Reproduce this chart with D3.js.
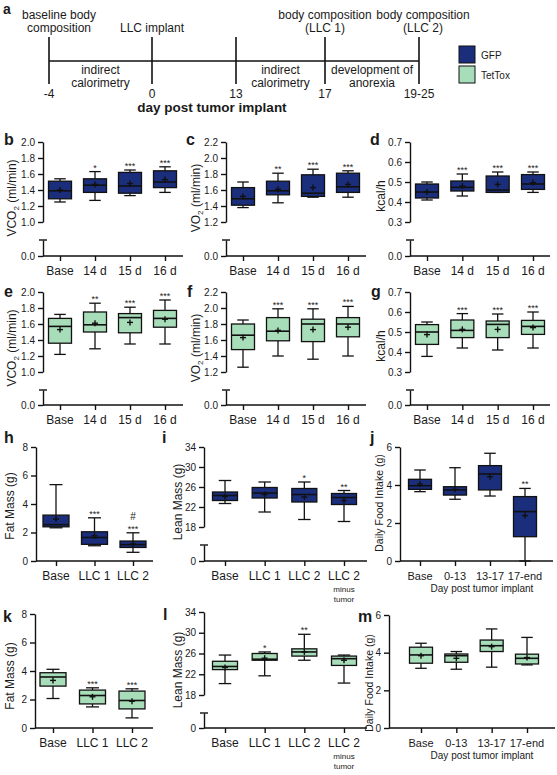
<!DOCTYPE html>
<html><head><meta charset="utf-8">
<script src="https://cdn.jsdelivr.net/npm/d3@7"></script>
<style>
body{margin:0;background:#fff}
svg text{font-family:"Liberation Sans",Arial,sans-serif;fill:#1a1a1a}
</style>
</head><body>
<script>
// ---------------- DATA ----------------
// box stats: [min, q1, median, q3, max, mean]
const dayCats = ["Base","14 d","15 d","16 d"];
const compCats = ["Base","LLC 1","LLC 2"];
const leanCats = ["Base","LLC 1","LLC 2","LLC 2 minus tumor"];
const foodCats = ["Base","0-13","13-17","17-end"];

const vco2GFP = [[1.25,1.29,1.39,1.51,1.54,1.40],[1.27,1.37,1.46,1.54,1.63,1.47],[1.33,1.36,1.45,1.62,1.65,1.48],[1.37,1.43,1.50,1.64,1.69,1.53]];
const vo2GFP  = [[1.38,1.41,1.49,1.63,1.70,1.52],[1.44,1.54,1.59,1.71,1.81,1.61],[1.51,1.52,1.56,1.79,1.86,1.63],[1.51,1.57,1.64,1.81,1.84,1.67]];
const kcalGFP = [[0.41,0.42,0.45,0.49,0.50,0.45],[0.43,0.455,0.473,0.505,0.54,0.48],[0.448,0.448,0.46,0.53,0.55,0.488],[0.448,0.463,0.49,0.537,0.55,0.497]];
const vco2Tet = [[1.22,1.36,1.57,1.67,1.72,1.53],[1.29,1.50,1.59,1.75,1.86,1.61],[1.35,1.49,1.68,1.73,1.81,1.62],[1.35,1.56,1.67,1.77,1.90,1.66]];
const vo2Tet  = [[1.26,1.48,1.66,1.80,1.85,1.63],[1.40,1.59,1.71,1.88,1.99,1.72],[1.36,1.58,1.80,1.86,1.99,1.73],[1.40,1.64,1.80,1.88,2.02,1.76]];
const kcalTet = [[0.378,0.438,0.50,0.537,0.55,0.487],[0.42,0.472,0.508,0.56,0.592,0.513],[0.41,0.472,0.538,0.555,0.59,0.513],[0.42,0.488,0.528,0.558,0.60,0.522]];
const fatGFP  = [[2.33,2.40,2.55,3.22,5.36,2.94],[1.07,1.17,1.65,2.05,3.03,1.77],[0.61,0.95,1.15,1.40,1.98,1.20]];
const leanGFP = [[22.7,23.3,24.3,25.0,27.3,24.1],[21.0,23.8,24.8,25.9,27.0,24.5],[19.5,23.0,24.5,25.7,27.0,24.0],[19.1,22.5,23.9,24.7,25.3,23.3]];
const foodGFP = [[3.65,3.77,3.96,4.30,4.79,4.05],[3.25,3.47,3.74,3.91,4.91,3.77],[3.42,3.74,4.58,5.02,5.67,4.44],[0,1.28,2.60,3.39,3.82,2.39]];
const fatTet  = [[2.07,2.94,3.58,3.88,4.12,3.34],[1.48,1.69,2.28,2.66,2.82,2.19],[0.71,1.34,1.93,2.59,2.75,1.88]];
const leanTet = [[20.2,22.9,23.5,24.5,25.7,23.3],[21.7,24.7,24.9,26.0,26.3,25.1],[24.7,25.5,26.3,26.9,29.7,26.3],[20.3,23.7,25.0,25.5,25.7,24.7]];
const foodTet = [[3.17,3.44,3.88,4.29,4.50,3.84],[3.12,3.49,3.84,3.93,4.06,3.70],[3.23,4.06,4.37,4.67,5.26,4.32],[3.35,3.40,3.70,3.92,4.81,3.74]];

const starsVco2GFP = ["","*","***","***"];
const starsVo2GFP  = ["","**","***","***"];
const starsKcalGFP = ["","***","***","***"];
const starsVco2Tet = ["","**","***","***"];
const starsVo2Tet  = ["","***","***","***"];
const starsKcalTet = ["","***","***","***"];
const starsFatGFP  = ["","***","***"];
const hashFatGFP   = ["","","#"];
const starsLeanGFP = ["","","*","**"];
const starsFoodGFP = ["","","","**"];
const starsFatTet  = ["","***","***"];
const starsLeanTet = ["","*","**",""];
const starsFoodTet = ["","","",""];

const vco2Ticks = [1.0,1.2,1.4,1.6,1.8,2.0];
const vo2Ticks  = [1.2,1.4,1.6,1.8,2.0,2.2];
const kcalTicks = [0.3,0.4,0.5,0.6,0.7];
const fatTicks  = [0,2,4,6,8];
const leanTicks = [18,22,26,30,34];
const foodTicks = [0,2,4,6];

const timelineDays   = [-4,0,13,17,22];
const timelineLabels = ["-4","0","13","17","19-25"];
const timelineTop    = [["baseline body","composition"],["LLC implant"],[],["body composition","(LLC 1)"],["body composition","(LLC 2)"]];
const timelinePhases = [{from:-4,to:0,lines:["indirect","calorimetry"]},{from:13,to:17,lines:["indirect","calorimetry"]},{from:17,to:22,lines:["development of","anorexia"]}];
const groups = ["GFP","TetTox"];
const groupColors = ["#1b2e7c","#a8ddb9"];

// ---------------- DRAW ----------------
const svg = d3.select("body").append("svg").attr("width",557).attr("height",775);

// Panel a: timeline
(function(){
  const g = svg.append("g");
  const t = d3.scaleLinear().domain(timelineDays).range([49,152,236,325,419]);
  g.append("text").attr("x",3).attr("y",14).attr("font-size",14).attr("font-weight","bold").text("a");
  g.append("line").attr("x1",t(-4)).attr("x2",t(22)).attr("y1",61).attr("y2",61).attr("stroke","#111").attr("stroke-width",1.6);
  timelineDays.forEach((d,i)=>{
    g.append("line").attr("x1",t(d)).attr("x2",t(d)).attr("y1",37).attr("y2",84).attr("stroke","#111").attr("stroke-width",1.6);
    g.append("text").attr("x",t(d)).attr("y",98).attr("text-anchor","middle").attr("font-size",12).text(timelineLabels[i]);
    const lines = timelineTop[i];
    const dx = i===0?10:(i===4?4:0);
    lines.forEach((L,j)=>{
      g.append("text").attr("x",t(d)+dx).attr("y",32-(lines.length-1-j)*13).attr("text-anchor","middle").attr("font-size",12).text(L);
    });
  });
  timelinePhases.forEach(p=>{
    const cx = (t(p.from)+t(p.to))/2;
    p.lines.forEach((L,j)=>g.append("text").attr("x",cx).attr("y",74+j*13).attr("text-anchor","middle").attr("font-size",12).text(L));
  });
  g.append("text").attr("x",212).attr("y",112).attr("text-anchor","middle").attr("font-size",13.5).attr("font-weight","bold").text("day post tumor implant");
  groups.forEach((gr,i)=>{
    g.append("rect").attr("x",459).attr("y",46+i*20).attr("width",16).attr("height",17).attr("fill",groupColors[i]).attr("stroke","#111").attr("stroke-width",1);
    g.append("text").attr("x",481).attr("y",59+i*20).attr("font-size",10).text(gr);
  });
})();

function drawPanel(p){
  const g = svg.append("g");
  const y = d3.scaleLinear().domain(p.domain).range([p.yLo,p.yHi]);
  const y0 = p.brkTop!=null ? p.y0 : y(0);
  const fmt = p.fmt;
  const styleAxis = a => {
    a.selectAll("path,line").attr("stroke","#111").attr("stroke-width",1.4);
    a.selectAll("text").attr("font-size",10).attr("fill","#222");
  };
  const ax = g.append("g").attr("transform",`translate(${p.axisX},0)`)
    .call(d3.axisLeft(y).tickValues(p.ticks).tickFormat(fmt).tickSize(5).tickSizeOuter(0).tickPadding(3));
  styleAxis(ax);
  if(p.brkTop!=null){
    const y2 = d3.scaleLinear().domain([0,1]).range([p.y0,p.brkTop]);
    const ax2 = g.append("g").attr("transform",`translate(${p.axisX},0)`)
      .call(d3.axisLeft(y2).tickValues([0]).tickFormat(fmt).tickSize(5).tickSizeOuter(0).tickPadding(3));
    styleAxis(ax2);
    g.append("line").attr("x1",p.axisX-4).attr("x2",p.axisX+4).attr("y1",p.brkTop).attr("y2",p.brkTop).attr("stroke","#111").attr("stroke-width",1.4);
  }
  // x axis
  const x = d3.scalePoint().domain(p.cats).range(p.catRange);
  g.append("line").attr("x1",p.axisX).attr("x2",p.xEnd).attr("y1",y0).attr("y2",y0).attr("stroke","#111").attr("stroke-width",1.4);
  const xa = g.append("g").attr("transform",`translate(0,${y0})`)
    .call(d3.axisBottom(x).tickSize(5).tickSizeOuter(0).tickFormat(""));
  xa.select(".domain").remove();
  xa.selectAll("line").attr("stroke","#111").attr("stroke-width",1.4);
  p.cats.forEach(c=>{
    const parts = c.split(" minus ");
    g.append("text").attr("x",x(c)).attr("y",y0+19).attr("text-anchor","middle").attr("font-size",p.catFont).text(parts[0]);
    if(parts.length>1){
      g.append("text").attr("x",x(c)).attr("y",y0+31).attr("text-anchor","middle").attr("font-size",8).text("minus");
      g.append("text").attr("x",x(c)).attr("y",y0+41).attr("text-anchor","middle").attr("font-size",8).text(parts[1]);
    }
  });
  if(p.xTitle){
    g.append("text").attr("x",p.xTitleX).attr("y",y0+31).attr("text-anchor","middle").attr("font-size",10).text(p.xTitle);
  }
  // boxes
  const bw = p.bw, cw = p.bw*0.5;
  p.data.forEach((s,i)=>{
    const cx = x(p.cats[i]);
    const [mn,q1,md,q3,mx,mean] = s;
    const line=(x1,y1,x2,y2,w)=>g.append("line").attr("x1",x1).attr("y1",y1).attr("x2",x2).attr("y2",y2).attr("stroke","#111").attr("stroke-width",w||1.3);
    line(cx,y(mx),cx,y(q3)); line(cx,y(q1),cx,y(mn));
    line(cx-cw/2,y(mx),cx+cw/2,y(mx)); line(cx-cw/2,y(mn),cx+cw/2,y(mn));
    g.append("rect").attr("x",cx-bw/2).attr("y",y(q3)).attr("width",bw).attr("height",y(q1)-y(q3))
      .attr("fill",p.fill).attr("stroke","#111").attr("stroke-width",1.3);
    line(cx-bw/2,y(md),cx+bw/2,y(md),1.6);
    line(cx-3,y(mean),cx+3,y(mean),1.4); line(cx,y(mean)-3,cx,y(mean)+3,1.4);
    if(p.stars && p.stars[i]) g.append("text").attr("x",cx).attr("y",y(mx)-1).attr("text-anchor","middle").attr("font-size",9).text(p.stars[i]);
    if(p.hash && p.hash[i]) g.append("text").attr("x",cx).attr("y",y(mx)-13).attr("text-anchor","middle").attr("font-size",10).text(p.hash[i]);
  });
  // y label
  const yl = g.append("text").attr("transform",`translate(${p.ylX},${p.ylY}) rotate(-90)`).attr("text-anchor","middle").attr("font-size",p.ylFont||12);
  if(p.ylSub){
    yl.append("tspan").text(p.ylabel[0]);
    yl.append("tspan").attr("font-size",8).attr("dy",3).text(p.ylSub);
    yl.append("tspan").attr("dy",-3).text(p.ylabel[1]);
  } else yl.text(p.ylabel);
  g.append("text").attr("x",p.letter[1]).attr("y",p.letter[2]).attr("font-size",16).attr("font-weight","bold").text(p.letter[0]);
}

const f1 = d3.format(".1f"), f0 = d3.format("d");
const GFP = groupColors[0], TET = groupColors[1];

// row 1
drawPanel({letter:["b",4,145],data:vco2GFP,stars:starsVco2GFP,cats:dayCats,fill:GFP,domain:[1.0,2.0],yLo:222,yHi:142,brkTop:240,y0:256,ticks:vco2Ticks,fmt:f1,axisX:43,xEnd:183,catRange:[60,165],bw:23,catFont:12,ylabel:["VCO"," (ml/min)"],ylSub:"2",ylX:16,ylY:198});
drawPanel({letter:["c",186,145],data:vo2GFP,stars:starsVo2GFP,cats:dayCats,fill:GFP,domain:[1.2,2.2],yLo:222,yHi:142,brkTop:240,y0:256,ticks:vo2Ticks,fmt:f1,axisX:226,xEnd:366,catRange:[243,348],bw:23,catFont:12,ylabel:["VO"," (ml/min)"],ylSub:"2",ylX:200,ylY:198});
drawPanel({letter:["d",370,145],data:kcalGFP,stars:starsKcalGFP,cats:dayCats,fill:GFP,domain:[0.3,0.7],yLo:222,yHi:142,brkTop:240,y0:256,ticks:kcalTicks,fmt:f1,axisX:410,xEnd:550,catRange:[427,533],bw:23,catFont:12,ylabel:"kcal/h",ylX:385,ylY:196});
// row 2
drawPanel({letter:["e",4,297],data:vco2Tet,stars:starsVco2Tet,cats:dayCats,fill:TET,domain:[1.0,2.0],yLo:372,yHi:292,brkTop:390,y0:405,ticks:vco2Ticks,fmt:f1,axisX:43,xEnd:183,catRange:[60,165],bw:23,catFont:12,ylabel:["VCO"," (ml/min)"],ylSub:"2",ylX:16,ylY:348});
drawPanel({letter:["f",187,297],data:vo2Tet,stars:starsVo2Tet,cats:dayCats,fill:TET,domain:[1.2,2.2],yLo:372,yHi:292,brkTop:390,y0:405,ticks:vo2Ticks,fmt:f1,axisX:226,xEnd:366,catRange:[243,348],bw:23,catFont:12,ylabel:["VO"," (ml/min)"],ylSub:"2",ylX:200,ylY:348});
drawPanel({letter:["g",371,297],data:kcalTet,stars:starsKcalTet,cats:dayCats,fill:TET,domain:[0.3,0.7],yLo:372,yHi:292,brkTop:390,y0:405,ticks:kcalTicks,fmt:f1,axisX:410,xEnd:550,catRange:[427,533],bw:23,catFont:12,ylabel:"kcal/h",ylX:385,ylY:346});
// row 3
drawPanel({letter:["h",4,443],data:fatGFP,stars:starsFatGFP,hash:hashFatGFP,cats:compCats,fill:GFP,domain:[0,8],yLo:561,yHi:447,ticks:fatTicks,fmt:f0,axisX:36,xEnd:153,catRange:[56,133],bw:26,catFont:12,ylabel:"Fat Mass (g)",ylX:14,ylY:506});
drawPanel({letter:["i",162,443],data:leanGFP,stars:starsLeanGFP,cats:leanCats,fill:GFP,domain:[18,34],yLo:527,yHi:447,brkTop:545,y0:561,ticks:leanTicks,fmt:f0,axisX:204,xEnd:367,catRange:[225,344],bw:25,catFont:12,ylabel:"Lean Mass (g)",ylX:182,ylY:502});
drawPanel({letter:["j",370,443],data:foodGFP,stars:starsFoodGFP,cats:foodCats,fill:GFP,domain:[0,6],yLo:561,yHi:447,ticks:foodTicks,fmt:f0,axisX:400,xEnd:553,catRange:[420,525],bw:23,catFont:11,ylabel:"Daily Food Intake (g)",ylFont:10.5,ylX:383,ylY:503,xTitle:"Day post tumor implant",xTitleX:482});
// row 4
drawPanel({letter:["k",3,622],data:fatTet,stars:starsFatTet,cats:compCats,fill:TET,domain:[0,8],yLo:728,yHi:614,ticks:fatTicks,fmt:f0,axisX:35,xEnd:153,catRange:[53,132],bw:26,catFont:12,ylabel:"Fat Mass (g)",ylX:14,ylY:676});
drawPanel({letter:["l",163,620],data:leanTet,stars:starsLeanTet,cats:leanCats,fill:TET,domain:[18,34],yLo:695,yHi:612,brkTop:713,y0:728,ticks:leanTicks,fmt:f0,axisX:204,xEnd:367,catRange:[225,344],bw:25,catFont:12,ylabel:"Lean Mass (g)",ylX:182,ylY:670});
drawPanel({letter:["m",358,622],data:foodTet,stars:starsFoodTet,cats:foodCats,fill:TET,domain:[0,6],yLo:728,yHi:615,ticks:foodTicks,fmt:f0,axisX:389,xEnd:555,catRange:[421,527],bw:23,catFont:11,ylabel:"Daily Food Intake (g)",ylFont:10.5,ylX:373,ylY:683,xTitle:"Day post tumor implant",xTitleX:482});
</script>
</body></html>
